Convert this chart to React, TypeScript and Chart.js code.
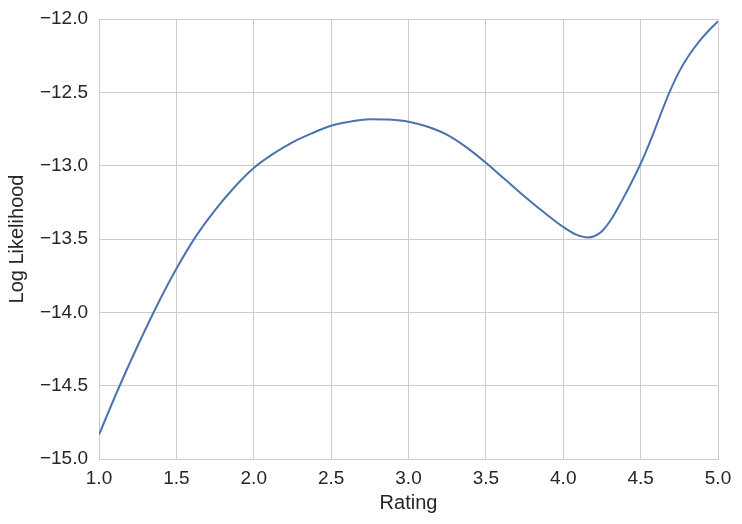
import React, { useEffect, useRef } from "react";
import { Chart, registerables } from "chart.js";

Chart.register(...registerables);

const ratings = [
  1.0, 1.125, 1.25, 1.375, 1.5, 1.625, 1.75, 1.875, 2.0, 2.125, 2.25, 2.375, 2.5, 2.625, 2.75, 2.875, 3.0,
  3.125, 3.25, 3.375, 3.5, 3.625, 3.75, 3.875, 4.0, 4.08, 4.16, 4.2, 4.25, 4.3125, 4.375, 4.4375, 4.5, 4.5625,
  4.625, 4.6875, 4.75, 4.8125, 4.875, 4.9375, 5.0,
];
const logLikelihood = [
  -14.834, -14.521, -14.228, -13.953, -13.703, -13.484, -13.303, -13.147, -13.016, -12.92, -12.841, -12.78,
  -12.728, -12.70, -12.683, -12.686, -12.70, -12.735, -12.79, -12.875, -12.98, -13.095, -13.21, -13.318,
  -13.418, -13.468, -13.489, -13.481, -13.447, -13.362, -13.247, -13.122, -12.987, -12.832, -12.662, -12.497,
  -12.357, -12.247, -12.157, -12.082, -12.016,
];
const xTicks = [1.0, 1.5, 2.0, 2.5, 3.0, 3.5, 4.0, 4.5, 5.0];
const yTicks = [-15.0, -14.5, -14.0, -13.5, -13.0, -12.5, -12.0];

const FONT = "'Liberation Sans', Arial, sans-serif";
const TEXT = "#262626";
const GRID = "#cccccc";

export default function App() {
  const ref = useRef<HTMLCanvasElement | null>(null);
  useEffect(() => {
    if (!ref.current) return;
    const chart = new Chart(ref.current, {
      type: "line",
      data: {
        datasets: [
          {
            data: ratings.map((r, i) => ({ x: r, y: logLikelihood[i] })),
            borderColor: "#4C72B0",
            borderWidth: 2,
            pointRadius: 0,
            cubicInterpolationMode: "monotone",
            fill: false,
          },
        ],
      },
      options: {
        responsive: false,
        animation: false,
        layout: { padding: { left: 0, right: 24, top: 19, bottom: 0 } },
        plugins: { legend: { display: false }, tooltip: { enabled: false } },
        scales: {
          x: {
            type: "linear",
            min: 1,
            max: 5,
            afterBuildTicks: (s: any) => {
              s.ticks = xTicks.map((v) => ({ value: v }));
            },
            afterFit: (s: any) => {
              s.height = 65;
            },
            ticks: {
              color: TEXT,
              font: { family: FONT, size: 19 },
              padding: 8,
              maxRotation: 0,
              autoSkip: false,
              callback: (v: any) => Number(v).toFixed(1),
            },
            grid: { color: GRID, lineWidth: 1, drawTicks: false },
            border: { color: GRID, width: 1 },
            title: {
              display: true,
              text: "Rating",
              color: TEXT,
              font: { family: FONT, size: 20 },
              padding: { top: 0, bottom: 9 },
            },
          },
          y: {
            type: "linear",
            min: -15,
            max: -12,
            afterBuildTicks: (s: any) => {
              s.ticks = yTicks.map((v) => ({ value: v }));
            },
            afterFit: (s: any) => {
              s.width = 99;
              s.paddingTop = 0;
              s.paddingBottom = 0;
            },
            ticks: {
              color: TEXT,
              font: { family: FONT, size: 19 },
              padding: 11,
              autoSkip: false,
              callback: (v: any) => {
                const n = Number(v);
                return (n < 0 ? "\u2212" : "") + Math.abs(n).toFixed(1);
              },
            },
            grid: { color: GRID, lineWidth: 1, drawTicks: false },
            border: { color: GRID, width: 1 },
            title: {
              display: true,
              text: "Log Likelihood",
              color: TEXT,
              font: { family: FONT, size: 20 },
              padding: { top: 5.5, bottom: 0 },
            },
          },
        },
      },
    });
    return () => chart.destroy();
  }, []);
  return (
    <div style={{ position: "absolute", left: 0, top: 0, width: 742, height: 524, background: "#fff" }}>
      <canvas ref={ref} width={742} height={524} style={{ display: "block" }} />
    </div>
  );
}
